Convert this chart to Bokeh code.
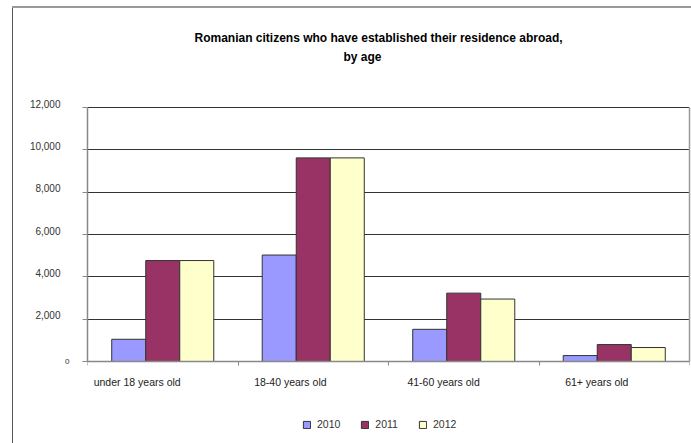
from bokeh.plotting import figure
from bokeh.models import (ColumnDataSource, FixedTicker, Legend, LegendItem,
                          LinearAxis, Range1d, Title)
from bokeh.transform import dodge
from bokeh.embed import file_html
from bokeh.resources import INLINE

categories = ["under 18 years old", "18-40 years old", "41-60 years old", "61+ years old"]
years = ["2010", "2011", "2012"]
v2010 = [1050, 5030, 1520, 280]
v2011 = [4770, 9620, 3230, 800]
v2012 = [4770, 9620, 2950, 660]
y_ticks = [0, 2000, 4000, 6000, 8000, 10000, 12000]
colors = ["#9999FF", "#993366", "#FFFFCC"]
title_lines = ["Romanian citizens who have established their residence abroad,", "by age"]

FONT = "Liberation Sans"
n = len(categories)
ymax = 12000
px = ymax / 254.0          # data units per screen pixel
lift = 4 * px              # tick labels sit a little above their gridlines
# frame extends below the value axis so the legend can sit inside it
ymin = -82 * px

src = ColumnDataSource(dict(xc=[i + 0.5 for i in range(n)], y2010=v2010, y2011=v2011, y2012=v2012))

p = figure(width=691, height=443, output_backend="svg", toolbar_location=None,
           x_range=Range1d(0, n), y_range=Range1d(ymin, ymax + lift),
           min_border_left=87, min_border_right=2, min_border_top=103, min_border_bottom=0)
p.background_fill_color = "white"
p.border_fill_alpha = 0
p.outline_line_color = None
p.styles = {"background": "linear-gradient(#9a9a9a,#9a9a9a) 12px 6px / 100% 2px no-repeat, "
                          "linear-gradient(#555555,#555555) 12px 6px / 1px 100% no-repeat, white"}

# titles (first added sits nearest the frame; p.title is outermost)
tstyle = dict(text_font=FONT, text_font_size="12px", text_font_style="bold", text_color="black")
p.title.text = title_lines[0]
p.title.align = "left"
p.title.offset = 107
p.title.standoff = 6
for k, v in tstyle.items():
    setattr(p.title, k, v)
p.add_layout(Title(text=" ", standoff=24, **tstyle), "above")
p.add_layout(Title(text=title_lines[1], align="left", offset=256, standoff=0, **tstyle), "above")

bw = 0.226
renderers = []
for k, (yr, col) in enumerate(zip(years, colors)):
    r = p.vbar(x=dodge("xc", (k - 1) * bw, range=p.x_range), top="y" + yr, width=bw, bottom=0,
               source=src, fill_color=col, line_color="#333333", line_width=1)
    renderers.append((yr, r))

# category axis fixed at value 0
label_pos = [i + 0.33 + 0.018 * i for i in range(n)]
p.xaxis.fixed_location = 0
p.xaxis.ticker = FixedTicker(ticks=label_pos, minor_ticks=list(range(n + 1)))
p.xaxis.major_label_overrides = {pos: c for pos, c in zip(label_pos, categories)}
p.xaxis.major_tick_line_color = None
p.xaxis.major_tick_out = 0
p.xaxis.major_tick_in = 0
p.xaxis.minor_tick_line_color = "#888888"
p.xaxis.minor_tick_out = 4
p.xaxis.minor_tick_in = 0
p.xaxis.axis_line_color = "#888888"
p.xaxis.axis_line_width = 1.5
p.xaxis.major_label_standoff = 10
p.xaxis.major_label_text_font = FONT
p.xaxis.major_label_text_font_size = "10.5px"
p.xaxis.major_label_text_color = "#222222"

# inner y axis: ticks and the small "0"
p.yaxis.bounds = (0, ymax)
p.yaxis.ticker = FixedTicker(ticks=y_ticks, minor_ticks=[])
p.yaxis.major_label_overrides = {t: ("0" if t == 0 else "") for t in y_ticks}
p.yaxis.axis_line_color = "#888888"
p.yaxis.axis_line_width = 1.5
p.yaxis.major_tick_line_color = "#888888"
p.yaxis.major_tick_out = 5
p.yaxis.major_tick_in = 0
p.yaxis.major_label_standoff = 13
p.yaxis.major_label_text_font = FONT
p.yaxis.major_label_text_font_size = "8px"
p.yaxis.major_label_text_color = "#333333"

# outer y axis: the thousand labels
ax2_ticks = [t + lift for t in y_ticks[1:]]
ax2 = LinearAxis(ticker=FixedTicker(ticks=ax2_ticks, minor_ticks=[]),
                 major_label_overrides={t + lift: f"{t:,}" for t in y_ticks[1:]},
                 axis_line_color=None, major_tick_line_color=None, major_tick_out=0, major_tick_in=0,
                 minor_tick_line_color=None, major_label_standoff=2,
                 major_label_text_font=FONT, major_label_text_font_size="10px",
                 major_label_text_color="#333333")
p.add_layout(ax2, "left")

# right border of the plot area
axr = LinearAxis(ticker=FixedTicker(ticks=[], minor_ticks=[]), bounds=(0, ymax),
                 axis_line_color="#999999", axis_line_width=1.5,
                 major_tick_line_color=None, minor_tick_line_color=None, major_label_text_alpha=0)
p.add_layout(axr, "right")

p.xgrid.grid_line_color = None
p.ygrid.grid_line_color = "#333333"
p.ygrid.grid_line_width = 1

legend = Legend(items=[LegendItem(label=yr, renderers=[r]) for yr, r in renderers],
                orientation="horizontal", location=(215, 13),
                glyph_width=9, glyph_height=9, label_standoff=6, spacing=20,
                padding=2, margin=0, border_line_color=None, background_fill_alpha=0,
                label_height=12,
                label_text_font=FONT, label_text_font_size="10.5px", label_text_color="#333333")
p.add_layout(legend)

open("out.html", "w").write(file_html(p, INLINE))
